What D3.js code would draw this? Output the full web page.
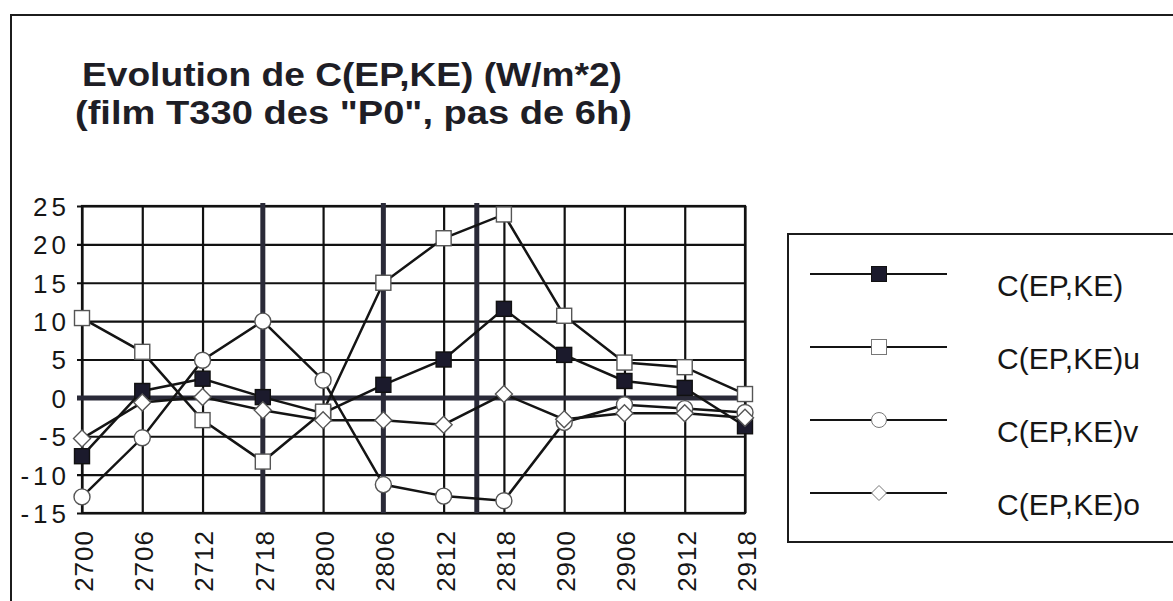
<!DOCTYPE html>
<html>
<head>
<meta charset="utf-8">
<script src="https://cdn.jsdelivr.net/npm/d3@7"></script>
<style>
  html, body { margin: 0; padding: 0; background: #ffffff; }
  svg { display: block; }
  text { font-family: "Liberation Sans", Arial, Helvetica, sans-serif; fill: #161616; }
</style>
</head>
<body>
<svg id="chart" width="1173" height="601"></svg>
<script>
// Time steps (day + hour) of the T330 sequence
const categories = ["2700", "2706", "2712", "2718", "2800", "2806", "2812", "2818", "2900", "2906", "2912", "2918"];

// Conversion terms C(EP,KE) in W/m*2
const cepke  = [-7.6, 0.9, 2.5, 0.1, -2.0, 1.7, 5.0, 11.6, 5.6, 2.2, 1.3, -3.7];
const cepkeU = [10.4, 6.0, -2.9, -8.3, -1.8, 15.0, 20.8, 23.9, 10.7, 4.6, 4.0, 0.5];
const cepkeV = [-12.9, -5.2, 4.9, 10.0, 2.3, -11.3, -12.8, -13.4, -3.2, -0.9, -1.4, -1.9];
const cepkeO = [-5.3, -0.6, 0.1, -1.6, -2.9, -2.9, -3.5, 0.5, -2.8, -2.0, -2.0, -2.6];

const seriesNames = ["C(EP,KE)", "C(EP,KE)u", "C(EP,KE)v", "C(EP,KE)o"];
const yTicks = [-15, -10, -5, 0, 5, 10, 15, 20, 25];
// Positions (in time-step index) of the heavy vertical reference lines
const eventPositions = [3, 5, 6.55];

const titleLines = ["Evolution de C(EP,KE) (W/m*2)", "(film T330 des \"P0\", pas de 6h)"];

const svg = d3.select("#chart");

const plot = { left: 82, right: 745, top: 206, bottom: 513 };
const plotW = plot.right - plot.left;
const plotH = plot.bottom - plot.top;

const x = d3.scaleLinear().domain([0, categories.length - 1]).range([0, plotW]);
const y = d3.scaleLinear().domain([-15, 25]).range([plotH, 0]);

// Outer page frame (top and left edges visible)
svg.append("path")
  .attr("d", "M11,601 L11,15 L1173,15")
  .attr("fill", "none").attr("stroke", "#1c1c1c").attr("stroke-width", 2);

// Title
const title = svg.append("g");
title.append("text")
  .attr("x", 82).attr("y", 86)
  .style("font-size", "33px").style("font-weight", "bold").style("fill", "#1e1e26")
  .attr("textLength", 540).attr("lengthAdjust", "spacingAndGlyphs")
  .text(titleLines[0]);
title.append("text")
  .attr("x", 75).attr("y", 124)
  .style("font-size", "33px").style("font-weight", "bold").style("fill", "#1e1e26")
  .attr("textLength", 557).attr("lengthAdjust", "spacingAndGlyphs")
  .text(titleLines[1]);

const g = svg.append("g").attr("transform", `translate(${plot.left},${plot.top})`);

// Horizontal grid + value labels
const yAxis = g.append("g")
  .call(d3.axisLeft(y).tickValues(yTicks).tickFormat(d => String(d))
    .tickSize(-plotW).tickSizeOuter(0));
yAxis.select(".domain").remove();
yAxis.selectAll(".tick line")
  .attr("x1", -5).attr("stroke", "#111").attr("stroke-width", 2.2);
yAxis.selectAll(".tick text")
  .attr("x", -12).attr("dy", "0.36em")
  .style("font-size", "26px").style("letter-spacing", "4px")
  .style("font-family", "Liberation Sans, Arial, sans-serif")
  .style("fill", "#161616");

// Vertical grid + time-step labels
const xAxis = g.append("g")
  .attr("transform", `translate(0,${plotH})`)
  .call(d3.axisBottom(x).tickValues(d3.range(categories.length))
    .tickFormat(i => categories[i]).tickSize(-plotH).tickSizeOuter(0));
xAxis.select(".domain").remove();
xAxis.selectAll(".tick line").attr("stroke", "#111").attr("stroke-width", 2.2);
xAxis.selectAll(".tick text")
  .attr("transform", "translate(1,17) rotate(-90)")
  .attr("x", 0).attr("y", 0).attr("dy", "0.36em")
  .attr("text-anchor", "end")
  .style("font-size", "26px").style("letter-spacing", "1px")
  .style("font-family", "Liberation Sans, Arial, sans-serif")
  .style("fill", "#161616");

// Plot border
g.append("rect")
  .attr("x", 0).attr("y", 0).attr("width", plotW).attr("height", plotH)
  .attr("fill", "none").attr("stroke", "#111").attr("stroke-width", 2.2);

// Heavy zero line
g.append("line")
  .attr("x1", -5).attr("x2", plotW).attr("y1", y(0)).attr("y2", y(0))
  .attr("stroke", "#2a2a38").attr("stroke-width", 5);

// Heavy vertical reference lines
g.selectAll(".event").data(eventPositions).join("line")
  .attr("class", "event")
  .attr("x1", d => x(d)).attr("x2", d => x(d))
  .attr("y1", -3).attr("y2", plotH)
  .attr("stroke", "#2a2a38").attr("stroke-width", 5);

const allSeries = [cepke, cepkeU, cepkeV, cepkeO];
const markerKinds = ["filledSquare", "square", "circle", "diamond"];

function drawMarker(sel, kind, size, strokeW, strokeCol) {
  const h = size / 2;
  if (kind === "filledSquare") {
    sel.append("rect").attr("x", -h).attr("y", -h).attr("width", size).attr("height", size)
      .attr("fill", "#1b1a2c").attr("stroke", "#111").attr("stroke-width", strokeW);
  } else if (kind === "square") {
    sel.append("rect").attr("x", -h).attr("y", -h).attr("width", size).attr("height", size)
      .attr("fill", "#ffffff").attr("stroke", strokeCol).attr("stroke-width", strokeW);
  } else if (kind === "circle") {
    sel.append("circle").attr("r", h)
      .attr("fill", "#ffffff").attr("stroke", strokeCol).attr("stroke-width", strokeW);
  } else {
    sel.append("path").attr("d", `M0,${-h} L${h},0 L0,${h} L${-h},0 Z`)
      .attr("fill", "#ffffff").attr("stroke", strokeCol).attr("stroke-width", strokeW);
  }
}

const line = d3.line().x((d, i) => x(i)).y(d => y(d));

allSeries.forEach((vals, s) => {
  g.append("path").datum(vals)
    .attr("d", line)
    .attr("fill", "none").attr("stroke", "#141414").attr("stroke-width", 2.5);
  const size = markerKinds[s] === "diamond" ? 17 : (markerKinds[s] === "circle" ? 16 : 15);
  g.selectAll(`.m${s}`).data(vals).join("g")
    .attr("class", `m${s}`)
    .attr("transform", (d, i) => `translate(${x(i)},${y(d)})`)
    .each(function () { drawMarker(d3.select(this), markerKinds[s], size, 1.4, "#555"); });
});

// Legend
const legend = svg.append("g");
legend.append("path")
  .attr("d", "M1180,234 L788,234 L788,542 L1180,542")
  .attr("fill", "none").attr("stroke", "#1c1c1c").attr("stroke-width", 2);

const rowY = d3.scalePoint().domain(seriesNames).range([274, 493]);
seriesNames.forEach((name, s) => {
  const ry = rowY(name);
  legend.append("line")
    .attr("x1", 810).attr("x2", 947).attr("y1", ry).attr("y2", ry)
    .attr("stroke", "#141414").attr("stroke-width", 2);
  const mg = legend.append("g").attr("transform", `translate(879,${ry})`);
  drawMarker(mg, markerKinds[s], 15, 1, "#777");
  legend.append("text")
    .attr("x", 997).attr("y", ry + 22)
    .style("font-size", "30px")
    .text(name);
});
</script>
</body>
</html>
